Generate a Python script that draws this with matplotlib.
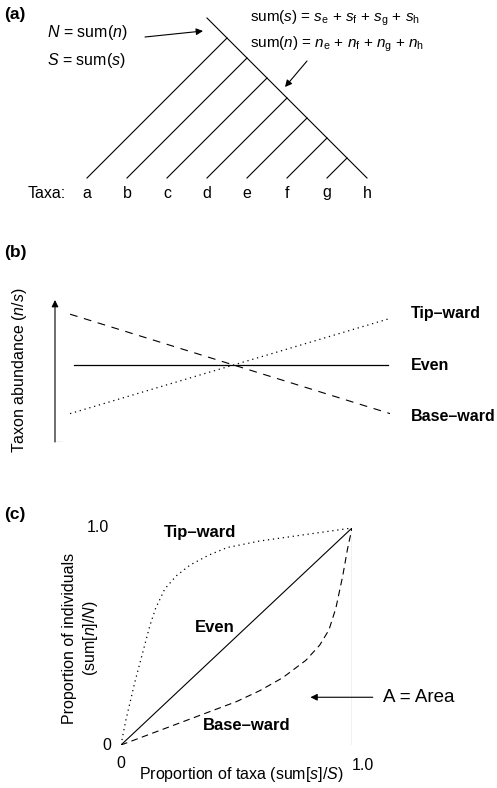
import numpy as np
import matplotlib
matplotlib.use("Agg")
import matplotlib.pyplot as plt

plt.rcParams['font.family'] = ['Liberation Sans', 'DejaVu Sans']
plt.rcParams['mathtext.fontset'] = 'custom'
plt.rcParams['mathtext.rm'] = 'Liberation Sans'
plt.rcParams['mathtext.it'] = 'Liberation Sans:italic'

W, H = 497, 788

# (a) cladogram: taxa sit at x = 0..7, each joins the main stem
taxa = ['a', 'b', 'c', 'd', 'e', 'f', 'g', 'h']
leaf_x = np.arange(len(taxa))
root = (3.0, 4.0)

# (b) taxon abundance along the tree (start, end)
b_x = [0.045, 1.0]
b_tip = [0.20, 0.87]
b_even = [0.54, 0.54]
b_base = [0.90, 0.20]

# (c) cumulative curves
tip_x = [0, 0.02, 0.04, 0.06, 0.08, 0.10, 0.125, 0.15, 0.19, 0.24, 0.30, 0.38, 0.46, 0.6, 0.8, 1.0]
tip_y = [0, 0.11, 0.2, 0.29, 0.37, 0.45, 0.55, 0.63, 0.72, 0.78, 0.83, 0.875, 0.91, 0.94, 0.97, 1.0]
even_x = [0, 1.0]
even_y = [0, 1.0]
base_x = [0, 0.1, 0.2, 0.3, 0.4, 0.5, 0.6, 0.7, 0.8, 0.86, 0.9, 0.93, 0.96, 0.98, 1.0]
base_y = [0, 0.04, 0.08, 0.12, 0.16, 0.2, 0.25, 0.31, 0.39, 0.46, 0.53, 0.63, 0.78, 0.9, 1.0]

arrow = dict(arrowstyle='-|>', lw=0.8, color='k', mutation_scale=10,
             shrinkA=0, shrinkB=0)
fs = 11.5   # body text
fb = 12     # bold curve labels


def px(x, y):
    return x / W, 1 - y / H


fig = plt.figure(figsize=(W / 100, H / 100), dpi=100)

# ---------- (a) ----------
ax = fig.add_axes([0, 1 - 200 / H, 1, 200 / H])
ax.set_xlim(-87 / 40, (W - 87) / 40)
ax.set_ylim(-22 / 40, 178 / 40)
ax.axis('off')
n = len(taxa) - 1
lw = 0.8
ax.plot([root[0], n], [root[1], 0], color='k', lw=lw)
for i in leaf_x[:-1]:
    ax.plot([i, (i + n) / 2], [0, (n - i) / 2], color='k', lw=lw)
for i, t in zip(leaf_x, taxa):
    ax.text(i, -0.375, t, ha='center', va='center', fontsize=fs)
ax.text(-1.0, -0.375, 'Taxa:', ha='center', va='center', fontsize=fs)
ax.text(-1.0, 3.65, r'$N$ = sum($n$)', ha='left', va='center', fontsize=fs)
ax.text(-1.0, 2.925, r'$S$ = sum($s$)', ha='left', va='center', fontsize=fs)
ax.annotate('', xy=(2.9, 3.675), xytext=(1.45, 3.525), arrowprops=arrow)
ax.text(4.075, 4.0, r'sum($s$) = $s_{\rm e}$ + $s_{\rm f}$ + $s_{\rm g}$ + $s_{\rm h}$',
        ha='left', va='center', fontsize=11)
ax.text(4.075, 3.35, r'sum($n$) = $n_{\rm e}$ + $n_{\rm f}$ + $n_{\rm g}$ + $n_{\rm h}$',
        ha='left', va='center', fontsize=11)
ax.annotate('', xy=(4.95, 2.275), xytext=(5.5, 2.925), arrowprops=arrow)

for yy, lab in [(15, '(a)'), (253, '(b)'), (515, '(c)')]:
    fig.text(*px(4, yy), lab, fontsize=12.5, fontweight='bold', va='center')

# ---------- (b) ----------
axb = fig.add_axes([55 / W, 1 - 442 / H, 335 / W, 142 / H])
axb.set_xlim(0, 1)
axb.set_ylim(0, 1)
axb.axis('off')
axb.annotate('', xy=(0, 1), xytext=(0, 0), arrowprops=arrow)
axb.plot([0, 0.02], [0, 0], color='k', lw=0.8)
axb.plot(b_x, b_base, color='k', lw=0.8, ls=(0, (7, 6)))
axb.plot(b_x, b_tip, color='k', lw=0.9, ls=(0, (1, 3)))
axb.plot([0.057, 0.995], b_even, color='k', lw=0.9)
for yy, lab in [(314, 'Tip–ward'), (365, 'Even'), (417, 'Base–ward')]:
    fig.text(*px(411, yy), lab, fontsize=11.5, fontweight='bold', va='center')
fig.text(*px(20, 370), r'Taxon abundance ($n$/$s$)', rotation=90,
         ha='center', va='center', fontsize=fs)

# ---------- (c) ----------
axc = fig.add_axes([121 / W, 1 - 745 / H, 231 / W, 217 / H])
axc.set_xlim(0, 1)
axc.set_ylim(0, 1)
axc.axis('off')
axc.annotate('', xy=(0, 1.037), xytext=(0, 0), arrowprops=arrow)
axc.annotate('', xy=(1.09, 0), xytext=(0, 0), arrowprops=arrow)
axc.plot([1, 1], [0, 1], color='k', lw=0.8)
axc.plot(tip_x, tip_y, color='k', lw=0.9, ls=(0, (1, 3)))
axc.plot(even_x, even_y, color='k', lw=0.8)
axc.plot(base_x, base_y, color='k', lw=0.8, ls=(0, (6, 4)))
axc.annotate('', xy=(0.82, 0.22), xytext=(1.09, 0.22), arrowprops=arrow,
             annotation_clip=False)
axc.text(1.134, 0.22, 'A = Area', ha='left', va='center', fontsize=13.5,
         clip_on=False)
fig.text(*px(200, 532), 'Tip–ward', fontsize=fb, fontweight='bold', ha='center', va='center')
fig.text(*px(215, 627), 'Even', fontsize=fb, fontweight='bold', ha='center', va='center')
fig.text(*px(247, 725), 'Base–ward', fontsize=fb, fontweight='bold', ha='center', va='center')
fig.text(*px(109, 528), '1.0', fontsize=fs, ha='right', va='center')
fig.text(*px(111, 745), '0', fontsize=fs, ha='right', va='center')
fig.text(*px(121, 763), '0', fontsize=fs, ha='center', va='center')
fig.text(*px(363, 765), '1.0', fontsize=fs, ha='center', va='center')
fig.text(*px(241, 775), r'Proportion of taxa (sum[$s$]/$S$)', fontsize=fs,
         ha='center', va='center')
fig.text(*px(81, 638), 'Proportion of individuals\n' + r'(sum[$n$]/$N$)',
         rotation=90, ha='center', va='center', fontsize=fs,
         multialignment='center', linespacing=1.3)

fig.savefig('out.png', dpi=100)
